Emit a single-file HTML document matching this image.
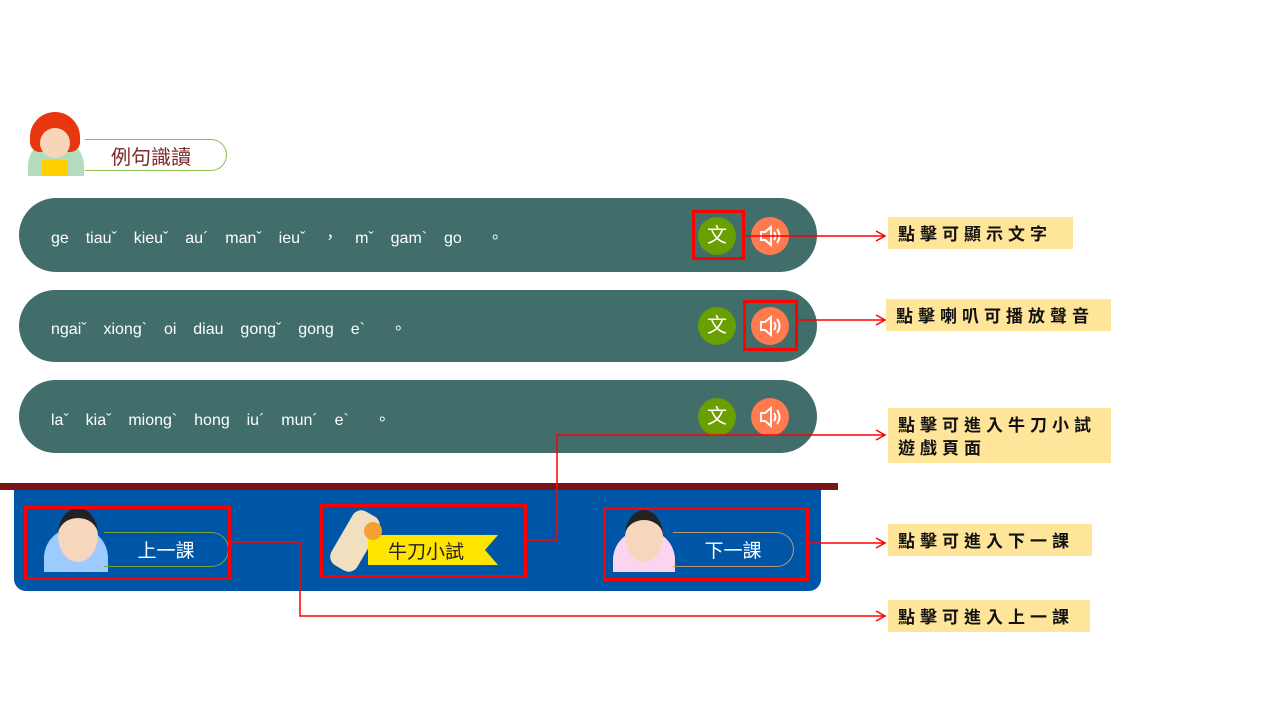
<!DOCTYPE html>
<html><head><meta charset="utf-8"><style>
body{margin:0;width:1280px;height:720px;background:#fff;position:relative;overflow:hidden;font-family:"Liberation Sans","Noto Sans CJK TC",sans-serif}
.a{position:absolute}
.row{position:absolute;left:19px;width:798px;background:#416d6a;border-radius:37px;color:#fff;font-size:16px}
.row span{position:absolute;left:32px;top:50%;transform:translateY(-45%);word-spacing:4px;white-space:pre}
.c{position:absolute;width:38px;height:38px;border-radius:50%;color:#fff;text-align:center;line-height:38px;font-size:20px}
.g{background:#6a9f00}.o{background:#ff7b4f}
.lab{position:absolute;background:#ffe599;color:#111;font-size:17px;letter-spacing:5px;padding-left:10px;box-sizing:border-box;font-weight:bold;font-family:"Noto Sans CJK TC",sans-serif;line-height:23px}
.rb{position:absolute;border:3px solid #f00;box-sizing:border-box}
.pill{position:absolute;border:1px solid #7aa33a;border-left:none;border-radius:0 20px 20px 0;color:#fff;font-size:19px;text-align:center;font-family:"Noto Sans CJK TC",sans-serif}
</style></head><body>
<!-- header -->
<div class="a" style="left:28px;top:138px;width:56px;height:38px;background:#b4dcbc;border-radius:28px 28px 0 0"></div>
<div class="a" style="left:30px;top:112px;width:50px;height:40px;background:#e8360e;border-radius:25px 25px 10px 10px"></div>
<div class="a" style="left:40px;top:128px;width:30px;height:30px;background:#f8d5b8;border-radius:50%"></div>
<div class="a" style="left:42px;top:160px;width:26px;height:16px;background:#ffd000"></div>
<div class="a" style="left:85px;top:139px;width:142px;height:32px;border:1px solid #8fbf4f;border-left:none;border-radius:0 17px 17px 0;color:#7a2a2a;font-size:20px;line-height:32px;padding-left:26px;box-sizing:border-box;font-family:'Noto Sans CJK TC',sans-serif">例句識讀</div>
<!-- rows -->
<div class="row" style="top:198px;height:74px"><span>ge  tiauˇ  kieuˇ  au´  manˇ  ieuˇ  ，  mˇ  gam`  go   。</span></div>
<div class="row" style="top:290px;height:72px"><span>ngaiˇ  xiong`  oi  diau  gongˇ  gong  e`   。</span></div>
<div class="row" style="top:380px;height:73px"><span>laˇ  kiaˇ  miong`  hong  iu´  mun´  e`   。</span></div>
<svg width="0" height="0" style="position:absolute"><defs><g id="spk" fill="none" stroke="#fff" stroke-width="2"><path d="M-9 -4H-5L1 -9V9L-5 4H-9Z"/><path d="M4 -4Q7 0 4 4M7 -7Q12 0 7 7"/></g></defs></svg>
<div class="c g" style="left:698px;top:217px">文</div><div class="c o" style="left:751px;top:217px"><svg width="38" height="38"><use href="#spk" x="19" y="19"/></svg></div>
<div class="c g" style="left:698px;top:307px">文</div><div class="c o" style="left:751px;top:307px"><svg width="38" height="38"><use href="#spk" x="19" y="19"/></svg></div>
<div class="c g" style="left:698px;top:398px">文</div><div class="c o" style="left:751px;top:398px"><svg width="38" height="38"><use href="#spk" x="19" y="19"/></svg></div>
<!-- bottom -->
<div class="a" style="left:0;top:483px;width:838px;height:7px;background:#7b1417"></div>
<div class="a" style="left:14px;top:490px;width:807px;height:101px;background:#0056a6;border-radius:0 0 12px 12px"></div>
<div class="a" style="left:44px;top:528px;width:64px;height:44px;background:#9ecbff;border-radius:30px 30px 0 0"></div>
<div class="a" style="left:58px;top:508px;width:40px;height:44px;background:#f6d6bc;border-radius:50%;border-top:10px solid #222"></div>
<div class="pill" style="left:104px;top:532px;width:124px;height:33px;line-height:33px">上一課</div>
<div class="a" style="left:340px;top:510px;width:30px;height:62px;background:#f0e0c0;border-radius:10px;transform:rotate(30deg)"></div>
<div class="a" style="left:368px;top:535px;width:130px;height:30px;background:#ffe400;clip-path:polygon(0 0,100% 0,90% 50%,100% 100%,0 100%)"></div>
<div class="a" style="left:364px;top:522px;width:18px;height:18px;background:#f4a033;border-radius:50%"></div>
<div class="a" style="left:388px;top:537px;font-size:19px;color:#222;font-family:'Noto Sans CJK TC',sans-serif">牛刀小試</div>
<div class="a" style="left:613px;top:530px;width:62px;height:42px;background:#fbd5ef;border-radius:30px 30px 0 0"></div>
<div class="a" style="left:625px;top:510px;width:38px;height:42px;background:#f6d6bc;border-radius:50%;border-top:10px solid #222"></div>
<div class="pill" style="left:673px;top:532px;width:120px;height:33px;line-height:33px;border-color:#b89a70">下一課</div>
<!-- red boxes -->
<div class="rb" style="left:692px;top:210px;width:53px;height:50px"></div>
<div class="rb" style="left:743px;top:300px;width:55px;height:51px"></div>
<div class="rb" style="left:24px;top:506px;width:207px;height:74px"></div>
<div class="rb" style="left:320px;top:504px;width:207px;height:74px"></div>
<div class="rb" style="left:603px;top:507px;width:206px;height:74px"></div>
<!-- connectors -->
<svg class="a" style="left:0;top:0" width="1280" height="720">
<g stroke="#f00" stroke-width="1.5" fill="none">
<path d="M744 236H884M876 231L885 236L876 241"/>
<path d="M797 320H884M876 315L885 320L876 325"/>
<path d="M527 540H557V435H884M876 430L885 435L876 440"/>
<path d="M808 543H884M876 538L885 543L876 548"/>
<path d="M230 542H300V616H884M876 611L885 616L876 621"/>
</g></svg>
<div class="lab" style="left:888px;top:217px;width:185px;height:32px;padding-top:4px">點擊可顯示文字</div>
<div class="lab" style="left:886px;top:299px;width:225px;height:32px;padding-top:4px">點擊喇叭可播放聲音</div>
<div class="lab" style="left:888px;top:408px;width:223px;height:55px;padding-top:4px">點擊可進入牛刀小試<br>遊戲頁面</div>
<div class="lab" style="left:888px;top:524px;width:204px;height:32px;padding-top:4px">點擊可進入下一課</div>
<div class="lab" style="left:888px;top:600px;width:202px;height:32px;padding-top:4px">點擊可進入上一課</div>
</body></html>
